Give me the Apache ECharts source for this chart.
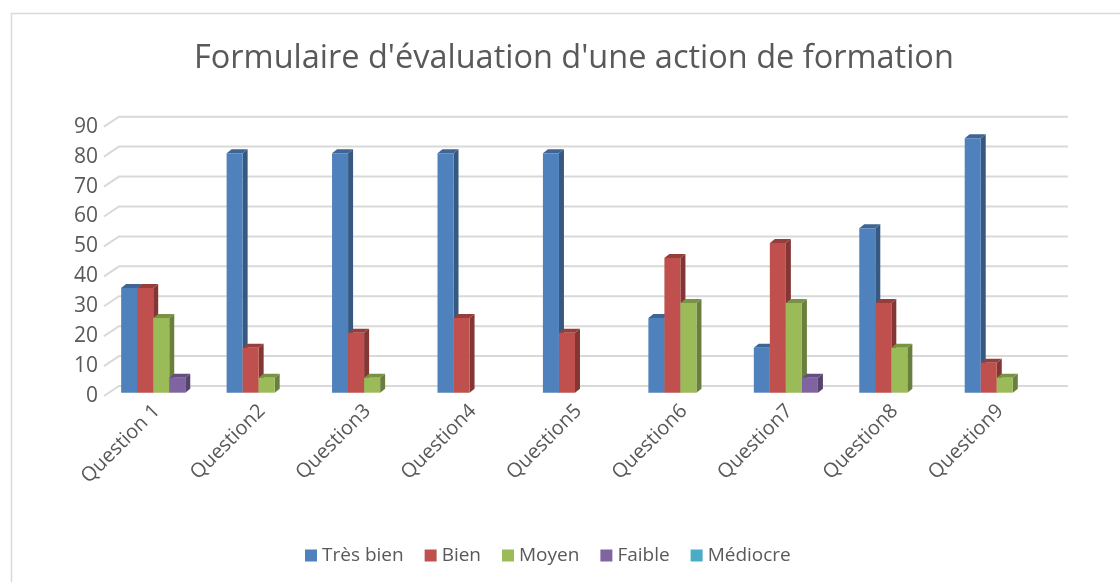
<!DOCTYPE html>
<html>
<head>
<meta charset="utf-8">
<script src="https://cdn.jsdelivr.net/npm/echarts@6/dist/echarts.min.js"></script>
<style>html,body{margin:0;padding:0;background:#fff}#c{width:1120px;height:582px}</style>
</head>
<body>
<div id="c"></div>
<script>
const titleText = "Formulaire d'évaluation d'une action de formation";
const categories = ['Question 1','Question2','Question3','Question4','Question5','Question6','Question7','Question8','Question9'];
const yTicks = [0,10,20,30,40,50,60,70,80,90];
const seriesNames = ['Très bien','Bien','Moyen','Faible','Médiocre'];
const tresBien = [35,80,80,80,80,25,15,55,85];
const bien     = [35,15,20,25,20,45,50,30,10];
const moyen    = [25,5,5,0,0,30,30,15,5];
const faible   = [5,0,0,0,0,0,5,0,0];
const mediocre = [0,0,0,0,0,0,0,0,0];
const seriesValues = [tresBien, bien, moyen, faible, mediocre];
const colors = ['#4F81BD','#C0504D','#9BBB59','#8064A2','#4BACC6'];

const FONT = "'Open Sans', sans-serif";
function shade(hex, f){
  const n = parseInt(hex.slice(1),16);
  const r = Math.round(((n>>16)&255)*f), g = Math.round(((n>>8)&255)*f), b = Math.round((n&255)*f);
  return 'rgb('+r+','+g+','+b+')';
}
function fitSize(text, target, family){
  const cv = document.createElement('canvas').getContext('2d');
  cv.font = '100px ' + family;
  return 100 * target / cv.measureText(text).width;
}
const titleSize = fitSize(titleText, 760, FONT);

const chart = echarts.init(document.getElementById('c'), null, {renderer:'canvas'});
const nS = seriesNames.length;
const DX = 4.5, DY = -3.3, SX = 5, SY = 4;
const WX = 15, WY = 10;

const barSeries = seriesNames.map((name, si) => ({
  type: 'custom',
  name: name,
  itemStyle: {color: colors[si]},
  z: 3 + si,
  data: seriesValues[si].map((v, i) => [i, v]),
  renderItem: function(params, api){
    const v = api.value(1);
    if (!v) return null;
    const ci = api.value(0);
    const base = api.coord([ci, 0]);
    const top = api.coord([ci, v]);
    const band = api.size([1, 0])[0];
    const w = band * 0.152;
    const x0 = base[0] + (si - nS/2) * w + DX;
    const x1 = x0 + w;
    const yb = base[1] + DY, yt = top[1] + DY;
    const c = colors[si];
    return {
      type: 'group',
      children: [
        {type:'polygon', shape:{points:[[x1,yt],[x1+SX,yt-SY],[x1+SX,yb-SY],[x1,yb]]}, style:{fill: shade(c,0.68)}},
        {type:'polygon', shape:{points:[[x0,yt],[x0+SX,yt-SY],[x1+SX,yt-SY],[x1,yt]]}, style:{fill: shade(c,0.78)}},
        {type:'rect', shape:{x:x0, y:yt, width:w, height:yb-yt}, style:{fill: c}}
      ]
    };
  }
}));

const gridSeries = {
  type: 'custom',
  name: '__grid',
  silent: true,
  z: 1,
  data: yTicks.map(t => [0, t]),
  renderItem: function(params, api){
    const cs = params.coordSys;
    const y = api.coord([0, api.value(1)])[1];
    return {
      type: 'polyline',
      shape: {points: [[cs.x, y],[cs.x+WX, y-WY],[cs.x+cs.width+WX, y-WY]]},
      style: {stroke: '#d9d9d9', lineWidth: 2, fill: null}
    };
  }
};

chart.setOption({
  backgroundColor: '#fff',
  animation: false,
  title: {
    text: titleText, left: 189, top: 38,
    textStyle: {fontFamily: FONT, fontSize: titleSize, fontWeight: 'normal', color: '#595959'}
  },
  graphic: [{
    type: 'rect', left: 9, top: 11, silent: true,
    shape: {width: 1200, height: 700},
    style: {fill: null, stroke: '#d9d9d9', lineWidth: 1.5}
  }],
  legend: {
    data: seriesNames, left: 300, top: 541, icon: 'rect',
    itemWidth: 12, itemHeight: 12, itemGap: 21,
    textStyle: {fontFamily: FONT, fontSize: 19, color: '#595959'}
  },
  grid: {left: 104, right: 67, top: 126.7, bottom: 186, containLabel: false},
  xAxis: {
    type: 'category', data: categories,
    axisLine: {show: false}, axisTick: {show: false},
    axisLabel: {rotate: 45, margin: 12, fontFamily: FONT, fontSize: 20, color: '#595959', interval: 0}
  },
  yAxis: {
    type: 'value', min: 0, max: 90, interval: 10,
    axisLine: {show: false}, axisTick: {show: false}, splitLine: {show: false},
    axisLabel: {margin: 6, fontFamily: FONT, fontSize: 21, color: '#595959'}
  },
  series: [gridSeries].concat(barSeries)
});
</script>
</body>
</html>
